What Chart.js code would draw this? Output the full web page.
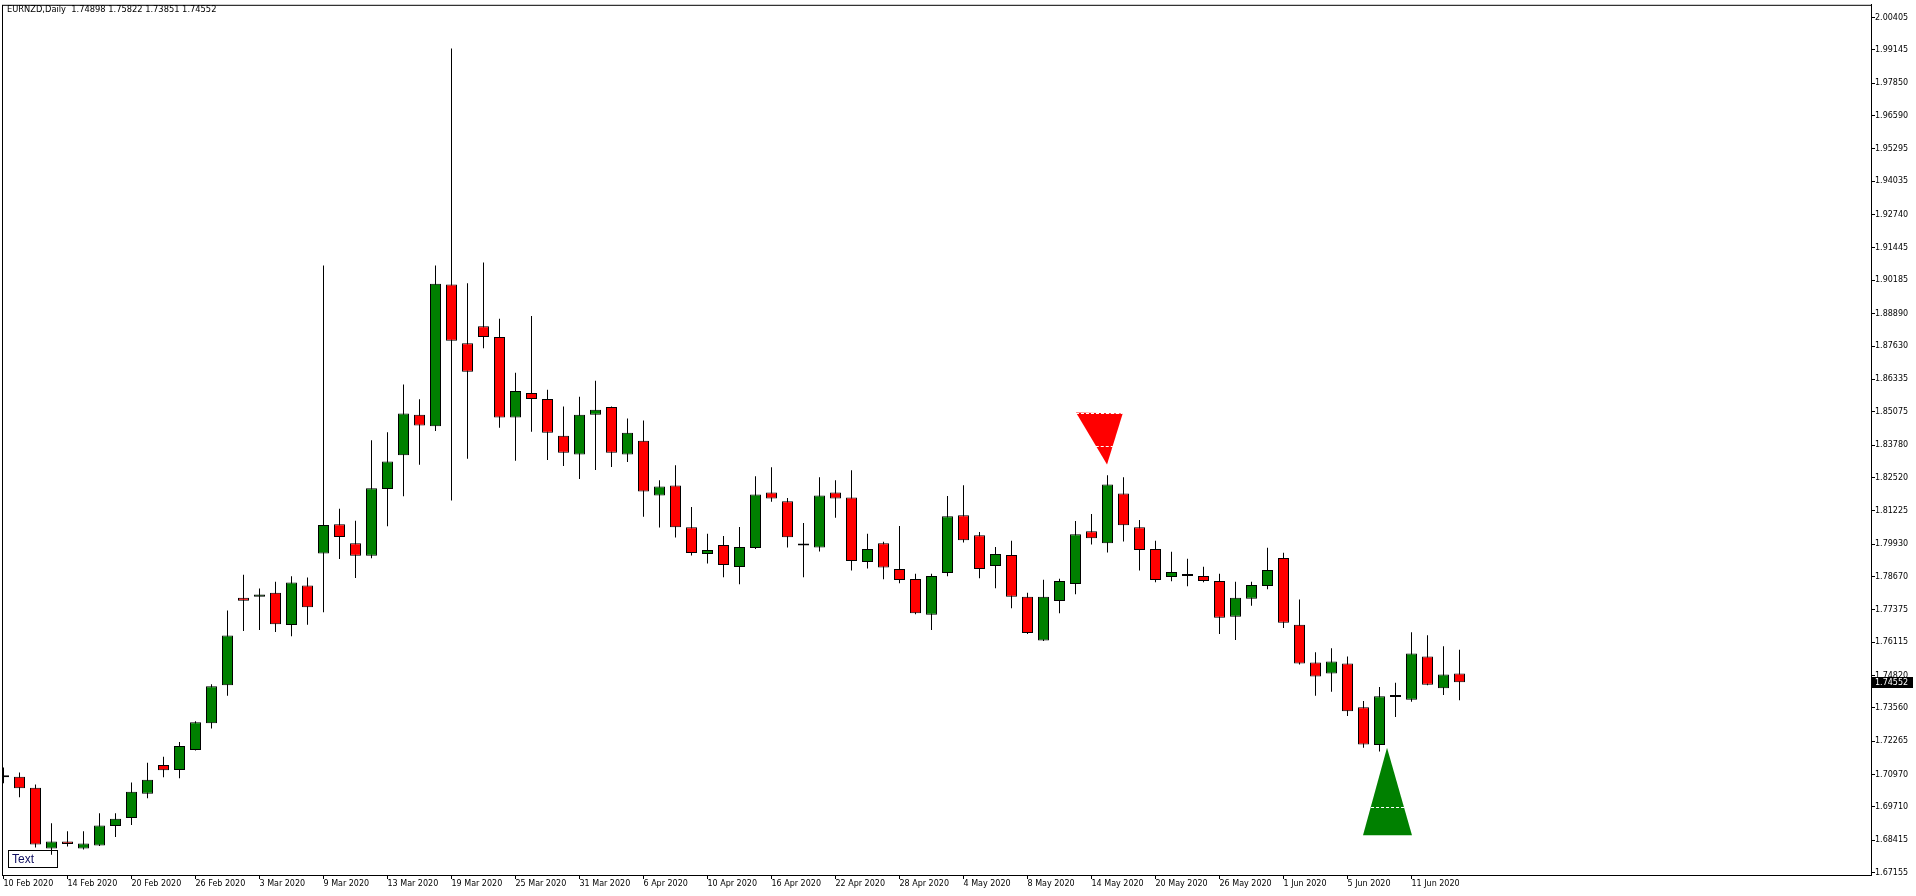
<!DOCTYPE html>
<html>
<head>
<meta charset="utf-8">
<script src="https://cdn.jsdelivr.net/npm/chart.js@4.4.1/dist/chart.umd.min.js"></script>
<style>
  html, body { margin: 0; padding: 0; background: #fff; overflow: hidden; }
  canvas { display: block; }
</style>
</head>
<body>
<canvas id="priceChart" width="1916" height="896"></canvas>
<script>
// EURNZD daily bars, 10 Feb 2020 .. 16 Jun 2020
const symbolTitle = 'EURNZD,Daily  1.74898 1.75822 1.73851 1.74552';

const opens = [
  1.70870, 1.70877, 1.70452, 1.68093, 1.68364, 1.68093, 1.68209, 1.68967, 1.69277, 1.70220,
  1.71342, 1.71148, 1.71922, 1.72966, 1.74435, 1.77838, 1.77877, 1.78039, 1.76779, 1.78314,
  1.79559, 1.80704, 1.79965, 1.79470, 1.82072, 1.83380, 1.84957, 1.84505, 1.90023, 1.87738,
  1.88399, 1.87981, 1.84849, 1.85804, 1.85572, 1.84141, 1.83407, 1.84953, 1.85263, 1.83407,
  1.83948, 1.81821, 1.82208, 1.80584, 1.79540, 1.79888, 1.79037, 1.79772, 1.81937, 1.81589,
  1.79875, 1.79795, 1.81937, 1.81744, 1.79230, 1.79965, 1.78959, 1.78573, 1.77181, 1.78805,
  1.81048, 1.80274, 1.79075, 1.79501, 1.77877, 1.76175, 1.77714, 1.78380, 1.80429, 1.79965,
  1.81898, 1.80584, 1.79733, 1.78650, 1.78766, 1.78689, 1.78495, 1.77103, 1.77799, 1.78302,
  1.79385, 1.76794, 1.75324, 1.74899, 1.75286, 1.73584, 1.72115, 1.73983, 1.73878, 1.75556,
  1.74319, 1.74898
];
const highs = [
  1.71237, 1.71044, 1.70580, 1.69072, 1.68762, 1.68762, 1.69458, 1.69458, 1.70657, 1.71430,
  1.71662, 1.72231, 1.73043, 1.74474, 1.77347, 1.78739, 1.78198, 1.78461, 1.78673, 1.78627,
  1.90762, 1.81303, 1.80839, 1.83963, 1.84280, 1.86129, 1.85561, 1.90762, 1.99196, 1.90069,
  1.90881, 1.88685, 1.86589, 1.88793, 1.85932, 1.85274, 1.85661, 1.86280, 1.85280, 1.84810,
  1.84733, 1.82413, 1.82993, 1.81369, 1.80325, 1.80247, 1.80595, 1.82567, 1.82915, 1.81717,
  1.80750, 1.82529, 1.82413, 1.82799, 1.80325, 1.80015, 1.80634, 1.78778, 1.78778, 1.81794,
  1.82219, 1.80402, 1.79810, 1.80054, 1.78031, 1.78546, 1.78584, 1.80827, 1.81098, 1.82606,
  1.82529, 1.80866, 1.80054, 1.79628, 1.79358, 1.79048, 1.78778, 1.78468, 1.78468, 1.79783,
  1.79590, 1.77772, 1.75723, 1.75878, 1.75556, 1.73828, 1.74369, 1.74536, 1.76496, 1.76380,
  1.75955, 1.75822
];
const lows = [
  1.70630, 1.70089, 1.68132, 1.67846, 1.68171, 1.68055, 1.68190, 1.68542, 1.69006, 1.70050,
  1.70862, 1.70823, 1.71900, 1.72757, 1.74033, 1.76547, 1.76585, 1.76508, 1.76342, 1.76794,
  1.77274, 1.79350, 1.78611, 1.79381, 1.80626, 1.81786, 1.83016, 1.84327, 1.81620, 1.83244,
  1.87544, 1.84447, 1.83171, 1.84296, 1.83198, 1.82966, 1.82463, 1.82811, 1.82927, 1.83120,
  1.80994, 1.80568, 1.80182, 1.79485, 1.79176, 1.78635, 1.78364, 1.79733, 1.81574, 1.79795,
  1.78635, 1.79640, 1.80955, 1.78905, 1.78983, 1.78557, 1.78403, 1.77204, 1.76585, 1.78673,
  1.79988, 1.78596, 1.78209, 1.77436, 1.76430, 1.76160, 1.77243, 1.77977, 1.79911, 1.79601,
  1.80027, 1.78905, 1.78441, 1.78480, 1.78287, 1.78441, 1.76430, 1.76199, 1.77529, 1.78171,
  1.76663, 1.75247, 1.74029, 1.74188, 1.73248, 1.72011, 1.71867, 1.73209, 1.73801, 1.74435,
  1.74060, 1.73851
];
const closes = [
  1.70862, 1.70437, 1.68248, 1.68364, 1.68271, 1.68287, 1.68983, 1.69253, 1.70297, 1.70761,
  1.71133, 1.72076, 1.73004, 1.74396, 1.76369, 1.77722, 1.77966, 1.76809, 1.78434, 1.77471,
  1.80673, 1.80205, 1.79470, 1.82100, 1.83140, 1.85004, 1.84536, 1.90054, 1.87830, 1.86628,
  1.87981, 1.84853, 1.85885, 1.85572, 1.84257, 1.83484, 1.84953, 1.85147, 1.83484, 1.84257,
  1.81976, 1.82169, 1.80584, 1.79578, 1.79694, 1.79114, 1.79810, 1.81860, 1.81705, 1.80197,
  1.79870, 1.81821, 1.81705, 1.79269, 1.79733, 1.79021, 1.78534, 1.77243, 1.78689, 1.81009,
  1.80081, 1.78959, 1.79540, 1.77877, 1.76469, 1.77877, 1.78495, 1.80313, 1.80158, 1.82246,
  1.80661, 1.79694, 1.78534, 1.78844, 1.78689, 1.78495, 1.77065, 1.77838, 1.78341, 1.78921,
  1.76871, 1.75286, 1.74775, 1.75363, 1.73430, 1.72138, 1.74010, 1.73980, 1.75673, 1.74458,
  1.74860, 1.74552
];

// date labels sit under every 4th bar, starting at bar 0
const dateLabelStep = 4;
const dateLabels = [
  '10 Feb 2020', '14 Feb 2020', '20 Feb 2020', '26 Feb 2020', '3 Mar 2020', '9 Mar 2020',
  '13 Mar 2020', '19 Mar 2020', '25 Mar 2020', '31 Mar 2020', '6 Apr 2020', '10 Apr 2020',
  '16 Apr 2020', '22 Apr 2020', '28 Apr 2020', '4 May 2020', '8 May 2020', '14 May 2020',
  '20 May 2020', '26 May 2020', '1 Jun 2020', '5 Jun 2020', '11 Jun 2020'
];

const priceTicks = [
  2.00405, 1.99145, 1.97850, 1.96590, 1.95295, 1.94035, 1.92740, 1.91445, 1.90185,
  1.88890, 1.87630, 1.86335, 1.85075, 1.83780, 1.82520, 1.81225, 1.79930, 1.78670,
  1.77375, 1.76115, 1.74820, 1.73560, 1.72265, 1.70970, 1.69710, 1.68415, 1.67155
];
const lastPrice = 1.74552;

// triangle objects (bar index, price)
const sellTriangle = [{ x: 67.03, y: 1.85042 }, { x: 69.95, y: 1.85004 }, { x: 68.97, y: 1.83020 }];
const sellMidLine = 1.83755;
const buyTriangle = [{ x: 86.47, y: 1.72011 }, { x: 88.03, y: 1.68608 }, { x: 84.97, y: 1.68608 }];
const buyMidLine = 1.69690;

const UP = '#008000';
const DOWN = '#ff0000';
const FONT = "8px 'DejaVu Sans', sans-serif";

function edgeX(a, b, price) {
  const t = (price - a.y) / (b.y - a.y);
  return a.x + (b.x - a.x) * t;
}

const terminalDecor = {
  id: 'terminalDecor',
  beforeDatasetsDraw(chart) {
    const ctx = chart.ctx;
    const sx = chart.scales.x, sy = chart.scales.y;
    const area = chart.chartArea;
    ctx.save();
    ctx.beginPath();
    ctx.rect(area.left, area.top, area.right - area.left, area.bottom - area.top);
    ctx.clip();

    [[sellTriangle, DOWN, sellMidLine, true], [buyTriangle, UP, buyMidLine, false]].forEach(([pts, color, mid, topDash]) => {
      ctx.beginPath();
      pts.forEach((p, k) => {
        const px = sx.getPixelForValue(p.x), py = sy.getPixelForValue(p.y);
        if (k === 0) ctx.moveTo(px, py); else ctx.lineTo(px, py);
      });
      ctx.closePath();
      ctx.fillStyle = color;
      ctx.fill();

      ctx.strokeStyle = '#fff';
      ctx.lineWidth = 1;
      ctx.setLineDash([3, 2]);
      // horizontal dashed line through the shape
      const apex = pts.reduce((m, p) => (Math.abs(p.y - pts[1].y) > Math.abs(m.y - pts[1].y) ? p : m), pts[0]);
      const base = pts.filter(p => p !== apex);
      const y = Math.round(sy.getPixelForValue(mid)) + 0.5;
      ctx.beginPath();
      ctx.moveTo(sx.getPixelForValue(edgeX(apex, base[0], mid)), y);
      ctx.lineTo(sx.getPixelForValue(edgeX(apex, base[1], mid)), y);
      ctx.stroke();
      if (topDash) {
        const ty = Math.round(sy.getPixelForValue(base[0].y)) + 0.5;
        ctx.beginPath();
        ctx.moveTo(sx.getPixelForValue(base[0].x), ty);
        ctx.lineTo(sx.getPixelForValue(base[1].x), ty);
        ctx.stroke();
      }
      ctx.setLineDash([]);
    });

    // "Text" label object in the lower left corner
    ctx.fillStyle = '#fff';
    ctx.fillRect(8, 850, 49, 17);
    ctx.strokeStyle = '#000';
    ctx.lineWidth = 1;
    ctx.strokeRect(8.5, 850.5, 49, 17);
    ctx.fillStyle = '#101060';
    ctx.font = "12px 'Liberation Sans', Arial, sans-serif";
    ctx.textBaseline = 'middle';
    ctx.textAlign = 'left';
    ctx.fillText('Text', 12, 859.5);
    ctx.restore();
  },
  afterDraw(chart) {
    const ctx = chart.ctx;
    const area = chart.chartArea;
    const sy = chart.scales.y;
    ctx.save();
    // chart frame
    ctx.strokeStyle = '#000';
    ctx.lineWidth = 1;
    ctx.strokeRect(area.left + 0.5, area.top + 0.5, area.right - area.left, area.bottom - area.top);

    // symbol / OHLC caption
    ctx.fillStyle = '#000';
    ctx.font = "8.3px 'DejaVu Sans', sans-serif";
    ctx.textBaseline = 'middle';
    ctx.textAlign = 'left';
    ctx.fillText(symbolTitle, 7, 10);

    // current price marker on the price scale
    const py = Math.round(sy.getPixelForValue(lastPrice));
    ctx.font = FONT;
    ctx.fillStyle = '#000';
    ctx.fillRect(area.right + 1, py - 5, 41, 11);
    ctx.fillStyle = '#fff';
    ctx.fillText(lastPrice.toFixed(5), area.right + 4, py + 0.5);
    ctx.restore();
  }
};

const bars = closes.map((c, i) => i);

new Chart(document.getElementById('priceChart'), {
  type: 'bar',
  data: {
    datasets: [
      {
        label: 'wicks',
        data: bars.map(i => ({ x: i, y: [lows[i], highs[i]] })),
        backgroundColor: '#000',
        borderWidth: 0,
        barThickness: 1,
        grouped: false,
        inflateAmount: 0,
        order: 2
      },
      {
        label: 'bodies',
        data: bars.map(i => ({ x: i, y: [opens[i], closes[i]] })),
        backgroundColor: bars.map(i => (closes[i] >= opens[i] ? UP : DOWN)),
        borderColor: '#000',
        borderWidth: 1,
        borderSkipped: false,
        barThickness: 11,
        minBarLength: 2,
        grouped: false,
        inflateAmount: 0,
        order: 1
      }
    ]
  },
  options: {
    responsive: false,
    devicePixelRatio: 1,
    animation: false,
    layout: { padding: { left: 2, top: 0, right: 0, bottom: 0 } },
    plugins: {
      legend: { display: false },
      tooltip: { enabled: false },
      title: { display: false }
    },
    scales: {
      x: {
        type: 'linear',
        offset: false,
        min: -0.09375,
        max: 116.71875,
        afterFit: scale => { scale.height = 21; },
        afterBuildTicks: scale => {
          scale.ticks = dateLabels.map((d, k) => ({ value: k * dateLabelStep }));
        },
        grid: { display: true, offset: false, drawOnChartArea: false, drawTicks: true, tickLength: 4, color: '#000' },
        border: { display: true, color: '#000' },
        ticks: {
          autoSkip: false,
          maxRotation: 0,
          align: 'start',
          padding: 0,
          color: '#000',
          font: { family: "'DejaVu Sans', sans-serif", size: 8 },
          callback: v => dateLabels[v / dateLabelStep] || ''
        }
      },
      y: {
        type: 'linear',
        position: 'right',
        min: 1.67061,
        max: 2.00897,
        afterFit: scale => { scale.width = 45; },
        afterBuildTicks: scale => {
          scale.ticks = priceTicks.map(v => ({ value: v }));
        },
        grid: { display: true, drawOnChartArea: false, drawTicks: true, tickLength: 4, color: '#000' },
        border: { display: true, color: '#000' },
        ticks: {
          autoSkip: false,
          padding: 0,
          color: '#000',
          font: { family: "'DejaVu Sans', sans-serif", size: 8 },
          callback: v => v.toFixed(5)
        }
      }
    }
  },
  plugins: [terminalDecor]
});
</script>
</body>
</html>
